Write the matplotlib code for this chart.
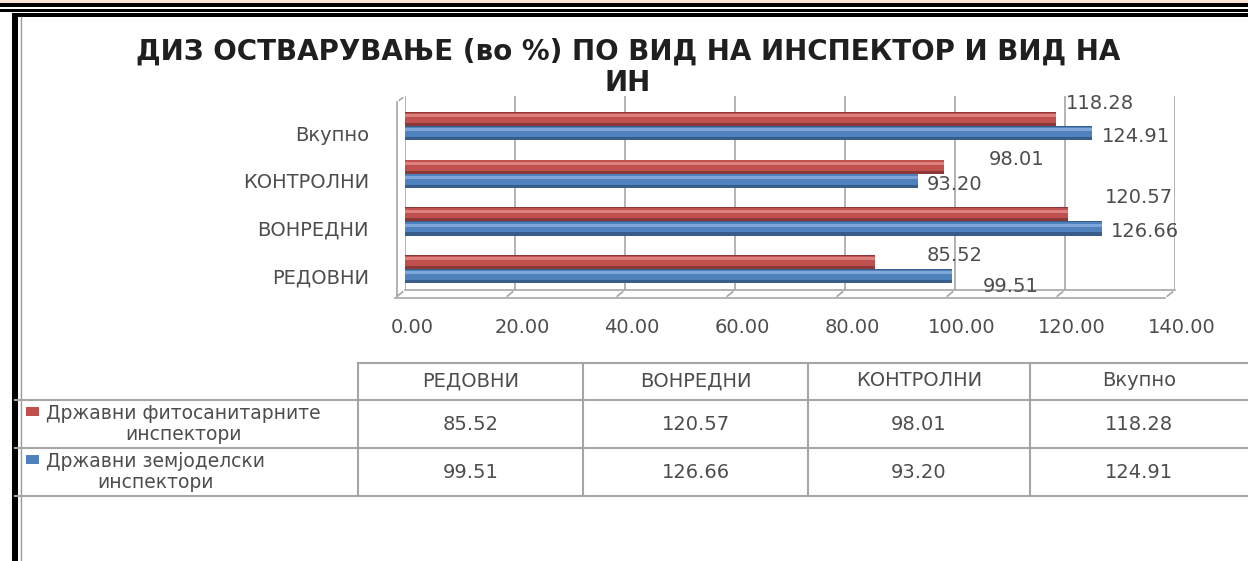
import matplotlib
matplotlib.use("Agg")
import matplotlib.pyplot as plt
import matplotlib.transforms as mtransforms
from matplotlib.lines import Line2D
from matplotlib.patches import Rectangle

# данни
categories = ["РЕДОВНИ", "ВОНРЕДНИ", "КОНТРОЛНИ", "Вкупно"]
fito = [85.52, 120.57, 98.01, 118.28]
zemjo = [99.51, 126.66, 93.20, 124.91]
series_names = ["Државни фитосанитарните\nинспектори", "Државни земјоделски\nинспектори"]
title = "ДИЗ ОСТВАРУВАЊЕ (во %) ПО ВИД НА ИНСПЕКТОР И ВИД НА\nИН"
xticks = [0, 20, 40, 60, 80, 100, 120, 140]

# label offsets in pixels (dx from bar end, dy)
fito_lbl_off = [(51, 7), (37, 17), (45, 7), (10, 16)]
zemjo_lbl_off = [(30, -10), (9, -3), (9, -4), (10, -3)]

W, H = 1248, 561
TXT = "#4d4d4d"
GRID = "#a6a6a6"
RED = ("#8c3836", "#c0504d", "#dc807d")
BLUE = ("#385d8a", "#4f81bd", "#7fa6d8")
FS = 14


def fx(x):
    return x / W


def fy(y):
    return 1 - y / H


fig = plt.figure(figsize=(W / 100, H / 100), dpi=100)
plt.rcParams["font.family"] = ["DejaVu Sans"]


def hline(y, x0, x1, lw=1.5, color=GRID):
    fig.add_artist(Line2D([fx(x0), fx(x1)], [fy(y), fy(y)], color=color, lw=lw))


def vline(x, y0, y1, lw=1.5, color=GRID):
    fig.add_artist(Line2D([fx(x), fx(x)], [fy(y0), fy(y1)], color=color, lw=lw))


# page frame (scan remnants)
fig.add_artist(Rectangle((0, fy(3)), 1, 3 / H, color="#fbe4d5", lw=0))
fig.add_artist(Rectangle((0, fy(7)), 1, 4 / H, color="black", lw=0))
fig.add_artist(Rectangle((0, fy(11.5)), 1, 2.5 / H, color="black", lw=0))
fig.add_artist(Rectangle((fx(12), fy(17)), 1, 4 / H, color="black", lw=0))
fig.add_artist(Rectangle((fx(12), 0), 6 / W, fy(13), color="black", lw=0))
vline(21, 17, 561, lw=1, color="#9a9a9a")

# chart
ax = fig.add_axes([fx(405), fy(290), fx(1175) - fx(405), fy(96) - fy(290)])
ax.set_xlim(0, 140)
ax.set_ylim(-0.44, 3.63)
ax.patch.set_alpha(0)

ypos = list(range(len(categories)))
off = 0.147
h = 0.30
y_red = [y + off for y in ypos]
y_blue = [y - off for y in ypos]

for yy, vals, cols in ((y_red, fito, RED), (y_blue, zemjo, BLUE)):
    ax.barh(yy, vals, height=h, color=cols[0], zorder=3)
    ax.barh([y + h * 0.08 for y in yy], vals, height=h * 0.72, color=cols[1], zorder=4)
    ax.barh([y + h * 0.22 for y in yy], vals, height=h * 0.2, color=cols[2], zorder=5)

for v in xticks:
    ax.axvline(v, color=GRID, lw=1.2, zorder=1)

ax.set_xticks(xticks)
ax.set_xticklabels([f"{v:.2f}" for v in xticks])
ax.set_yticks(y_blue)
ax.set_yticklabels(categories)
ax.tick_params(axis="both", length=0, labelsize=FS, colors=TXT)
ax.tick_params(axis="x", pad=20)
ax.tick_params(axis="y", pad=26)
xshift = mtransforms.ScaledTranslation(7 / 100, 0, fig.dpi_scale_trans)
for lbl in ax.get_xticklabels():
    lbl.set_transform(lbl.get_transform() + xshift)
for s in ("top", "right", "left"):
    ax.spines[s].set_visible(False)
ax.spines["bottom"].set_color(GRID)
ax.spines["bottom"].set_linewidth(1.2)

# floor of the 3D box
shift = mtransforms.ScaledTranslation(-10 / 100, -8 / 100, fig.dpi_scale_trans)
y0, y1 = ax.get_ylim()
ax.add_line(Line2D([0, 140], [y0, y0], transform=ax.transData + shift,
                   color=GRID, lw=1.2, clip_on=False))
for v in xticks:
    ax.annotate("", xy=(v, y0), xytext=(-10, -8), textcoords="offset pixels",
                arrowprops=dict(arrowstyle="-", color=GRID, lw=1.2),
                annotation_clip=False)
ax.annotate("", xy=(0, y1), xytext=(-8, -6), textcoords="offset pixels",
            arrowprops=dict(arrowstyle="-", color=GRID, lw=1.2), annotation_clip=False)
ax.add_line(Line2D([0, 0], [y0, y1], transform=ax.transData +
                   mtransforms.ScaledTranslation(-8 / 100, -6 / 100, fig.dpi_scale_trans),
                   color=GRID, lw=1.2, clip_on=False))

# data labels
for yy, vals, offs in ((y_red, fito, fito_lbl_off), (y_blue, zemjo, zemjo_lbl_off)):
    for y, v, (dx, dy) in zip(yy, vals, offs):
        ax.annotate(f"{v:.2f}", xy=(v, y), xytext=(dx, dy), textcoords="offset pixels",
                    ha="left", va="center", fontsize=FS, color=TXT, zorder=6)

# title (two lines drawn separately, the second is short)
for line, ty in zip(title.split("\n"), (52, 83)):
    fig.text(fx(628), fy(ty), line, ha="center", va="center", fontsize=20,
             fontweight="bold", color="#1f1f1f")

# data table
col_edges = [358, 583, 808, 1030, 1248]
row_edges = [363, 400, 448, 496]
hline(row_edges[0], col_edges[0], W)
for y in row_edges[1:]:
    hline(y, 15, W)
for x in col_edges[:-1]:
    vline(x, row_edges[0], row_edges[-1])

centers = [(a + b) / 2 for a, b in zip(col_edges[:-1], col_edges[1:])]
for c, name in zip(centers, categories):
    fig.text(fx(c), fy(381), name, ha="center", va="center", fontsize=FS, color=TXT)
for r, (vals, name, cols) in enumerate(((fito, series_names[0], RED),
                                         (zemjo, series_names[1], BLUE))):
    yc = (row_edges[r + 1] + row_edges[r + 2]) / 2
    for c, v in zip(centers, vals):
        fig.text(fx(c), fy(yc), f"{v:.2f}", ha="center", va="center", fontsize=FS, color=TXT)
    fig.add_artist(Rectangle((fx(26), fy(yc - 8)), 13 / W, 9 / H, color=cols[1], lw=0))
    fig.text(fx(46), fy(yc), name, ha="left", va="center", fontsize=13.5, color=TXT,
             multialignment="center", linespacing=1.15)

fig.savefig("out.png", dpi=100)
